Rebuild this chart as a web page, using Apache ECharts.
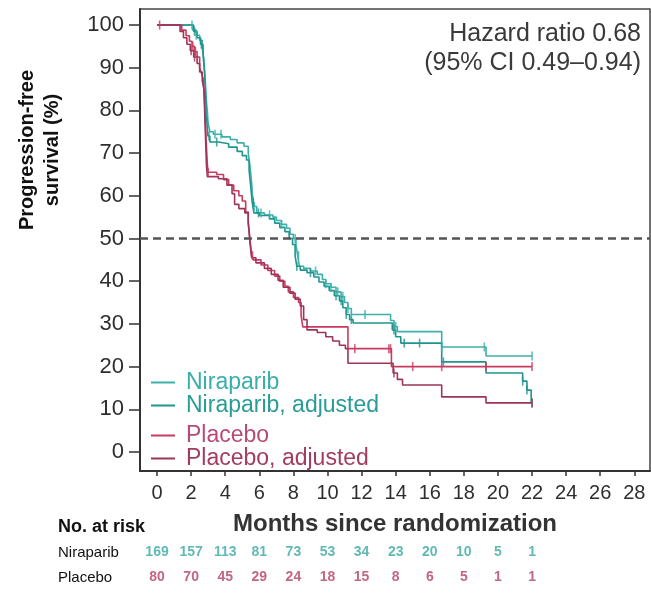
<!DOCTYPE html>
<html>
<head>
<meta charset="utf-8">
<script src="https://cdn.jsdelivr.net/npm/echarts@6/dist/echarts.min.js"></script>
<style>html,body{margin:0;padding:0;background:#fff}#c{width:651px;height:601px}</style>
</head>
<body>
<div id="c"></div>
<script>
// ---- data ----
const xTicks = [0,2,4,6,8,10,12,14,16,18,20,22,24,26,28];
const yTicks = [0,10,20,30,40,50,60,70,80,90,100];
const riskTimes = [0,2,4,6,8,10,12,14,16,18,20,22];
const riskNiraparib = [169,157,113,81,73,53,34,23,20,10,5,1];
const riskPlacebo = [80,70,45,29,24,18,15,8,6,5,1,1];
const rowNames = ['Niraparib','Placebo'];

const niraparib = [[0,100],[2.1,98.8],[2.3,97.6],[2.5,96.4],[2.65,94.6],[2.75,92],[2.8,89],[2.85,85.5],[2.9,82],[2.95,79.5],[3.0,77],[3.1,75],[3.3,74.4],[3.8,73.8],[4.3,73.2],[4.7,72.4],[5.1,71.6],[5.35,70],[5.45,67],[5.55,63],[5.6,60],[5.7,57.5],[5.85,56],[6.3,55.5],[6.8,55],[7.0,54.2],[7.3,53.3],[7.6,52.4],[7.8,51],[8.0,50],[8.15,48.5],[8.25,46],[8.35,43.5],[8.6,43],[9.0,42.4],[9.4,41.6],[9.7,40.4],[9.9,39.4],[10.2,38.6],[10.5,37.5],[10.8,36.4],[11.0,35],[11.2,33.6],[11.4,32.2],[13.7,30.8],[13.9,29.4],[14.1,28.2],[16.7,24.6],[19.3,22.5],[22,22.5]];
const niraparibAdj = [[0,100],[2.15,98.5],[2.35,97],[2.55,95.5],[2.7,93],[2.78,89],[2.83,85],[2.88,81],[2.93,77],[2.98,74],[3.1,72.6],[3.6,72.2],[4.2,71.4],[4.7,70.4],[5.0,69.4],[5.25,68.4],[5.4,66],[5.5,62],[5.58,58.5],[5.68,56],[6.0,55.4],[6.6,54.6],[6.9,53.6],[7.2,52.6],[7.5,51.6],[7.75,50],[7.95,48.6],[8.1,46],[8.2,43.5],[8.4,42.6],[8.8,42],[9.2,41],[9.5,39.8],[9.8,38.8],[10.1,37.8],[10.4,36.6],[10.7,35.4],[10.9,33.8],[11.1,32.2],[11.3,31],[11.5,30.2],[13.8,28.6],[14.0,27],[14.3,25.5],[16.7,21.1],[19.3,18.5],[21.45,16.6],[21.7,14.5],[21.95,11.5],[22,11.5]];
const placebo = [[0,100],[1.45,98.8],[1.7,97.5],[1.9,96.2],[2.05,95],[2.2,93.8],[2.35,92.5],[2.5,90],[2.6,88.8],[2.7,87.5],[2.78,83],[2.83,78],[2.88,73],[2.93,69],[2.98,65.5],[3.5,65],[3.9,63.8],[4.2,62.5],[4.5,61.2],[4.8,60],[5.0,58.8],[5.2,56.2],[5.35,53.5],[5.45,50],[5.55,46],[5.65,45],[6.1,43.8],[6.5,42.5],[6.9,41.2],[7.2,40],[7.5,38.8],[7.7,37.5],[8.0,36.2],[8.3,35],[8.45,32],[8.55,29.3],[11.2,24.2],[13.75,20],[22,20]];
const placeboAdj = [[0,100],[1.35,98.5],[1.55,97],[1.75,95.5],[1.95,94],[2.15,92.5],[2.35,91],[2.5,89],[2.65,87],[2.75,85],[2.8,79],[2.85,73],[2.9,67],[2.95,64.5],[3.6,64],[4.1,62.5],[4.4,60.5],[4.55,58],[4.8,57],[5.15,56],[5.35,54],[5.45,49],[5.55,45.5],[5.8,44.3],[6.3,43],[6.7,41.6],[7.1,40.2],[7.4,38.6],[7.8,37.2],[8.1,35.8],[8.4,34.2],[8.6,31],[8.8,28.6],[9.4,28],[9.9,27],[10.3,26],[10.7,25],[11.05,24.2],[11.2,20.8],[13.85,18.5],[14.1,17],[14.4,15.7],[16.7,12.9],[19.3,11.5],[22,11.5]];

const niraparibCens = [2.05,2.3,2.95,3.4,3.75,5.7,6.1,6.6,7.3,8.1,8.3,9.3,9.9,10.2,10.6,10.9,11.2,12.2,13.9,14.0,16.7,19.2,22];
const niraparibAdjCens = [2.2,2.6,3.05,3.5,5.65,5.95,8.2,9.0,10.5,10.8,11.1,11.4,13.9,14.5,15.4,16.8,21.45,21.7,22];
const placeboCens = [0.15,2.1,2.25,3.0,5.6,11.6,13.6,13.7,15.0,16.7,19.3,22];
const placeboAdjCens = [2.0,2.2,13.9,22];

// ---- styles ----
const FONT = 'Liberation Sans, Arial, Helvetica, sans-serif';
const C_NIR = '#3cb0ab', C_NIR_ADJ = '#1f958e', C_PLA = '#c93a5f', C_PLA_ADJ = '#9c3558';

function sAt(curve, t){ let s = curve[0][1]; for (const p of curve) if (p[0] <= t) s = p[1]; return s; }
function cens(curve, times){ return times.map(t => [t, sAt(curve, t)]); }

function kmLine(name, data, color, z){
  return {name, type:'line', step:'end', data, symbol:'none', showSymbol:false, z,
    lineStyle:{color, width:1.6}, itemStyle:{color}, emphasis:{disabled:true}};
}
function censSeries(name, data, color){
  return {name, type:'scatter', data, symbol:'rect', symbolSize:[1.6,9], itemStyle:{color}, z:5, silent:true};
}

const riskData = [];
riskTimes.forEach((t,i)=>{
  riskData.push({value:[t,'Niraparib'], label:{formatter:String(riskNiraparib[i]), color:'#3aa7a0'}});
  riskData.push({value:[t,'Placebo'], label:{formatter:String(riskPlacebo[i]), color:'#b2405f'}});
});

const lines = [
  kmLine('Niraparib', niraparib, C_NIR, 3),
  kmLine('Niraparib, adjusted', niraparibAdj, C_NIR_ADJ, 3),
  kmLine('Placebo', placebo, C_PLA, 4),
  kmLine('Placebo, adjusted', placeboAdj, C_PLA_ADJ, 4)
];
lines[0].markLine = {silent:true, symbol:['none','none'], label:{show:false},
  lineStyle:{color:'#555', width:2.5, type:[8,5]}, data:[{yAxis:50}]};

const chart = echarts.init(document.getElementById('c'), null, {renderer:'canvas'});
chart.setOption({
  animation:false,
  textStyle:{fontFamily:FONT},
  grid:[
    {left:140, right:1, top:9, bottom:130, show:true, borderColor:'#444', borderWidth:1.5},
    {left:140, right:1, top:540, height:50}
  ],
  xAxis:[
    {type:'value', gridIndex:0, min:-1.0, max:28.92,
     axisLine:{show:true, onZero:false, lineStyle:{color:'#333', width:2}},
     axisTick:{show:true, customValues:xTicks, length:5, lineStyle:{color:'#333', width:1.5}},
     axisLabel:{customValues:xTicks, margin:12, fontSize:20, color:'#2e2e2e', fontFamily:FONT},
     splitLine:{show:false},
     name:'Months since randomization', nameLocation:'middle', nameGap:41,
     nameTextStyle:{fontWeight:'bold', fontSize:24, color:'#333', fontFamily:FONT}},
    {type:'value', gridIndex:1, min:-1.0, max:28.92, show:false}
  ],
  yAxis:[
    {type:'value', gridIndex:0, min:-4.45, max:103.75,
     axisLine:{show:true, onZero:false, lineStyle:{color:'#333', width:2}},
     axisTick:{show:true, customValues:yTicks, length:11, lineStyle:{color:'#333', width:1.5}},
     axisLabel:{customValues:yTicks, margin:16, fontSize:22, color:'#2e2e2e', fontFamily:FONT},
     splitLine:{show:false}},
    {type:'category', gridIndex:1, data:rowNames, inverse:true,
     axisLine:{show:false}, axisTick:{show:false},
     axisLabel:{align:'left', margin:82, fontSize:15, color:'#111', fontFamily:FONT}}
  ],
  legend:[
    {orient:'vertical', left:146, top:366, itemGap:0, itemWidth:24, itemHeight:2, icon:'rect',
     textStyle:{fontSize:23, lineHeight:22, padding:[0,0,0,6], fontFamily:FONT},
     selectedMode:false,
     data:[{name:'Niraparib', textStyle:{color:'#3aaeaa'}},{name:'Niraparib, adjusted', textStyle:{color:'#2a9c96'}}]},
    {orient:'vertical', left:146, top:419, itemGap:0, itemWidth:24, itemHeight:2, icon:'rect',
     textStyle:{fontSize:23, lineHeight:20, padding:[0,0,0,6], fontFamily:FONT},
     selectedMode:false,
     data:[{name:'Placebo', textStyle:{color:'#b84a78'}},{name:'Placebo, adjusted', textStyle:{color:'#a33c60'}}]}
  ],
  graphic:[
    {type:'text', x:40, y:150, rotation:Math.PI/2,
     style:{text:'Progression-free\nsurvival (%)', font:'bold 20px '+FONT, fill:'#111', align:'center', verticalAlign:'middle', lineHeight:25}},
    {type:'text', x:641, y:34, style:{text:'Hazard ratio 0.68', font:'25px '+FONT, fill:'#3a3a3a', align:'right', verticalAlign:'middle'}},
    {type:'text', x:641, y:63, style:{text:'(95% CI 0.49\u20130.94)', font:'25px '+FONT, fill:'#3a3a3a', align:'right', verticalAlign:'middle'}},
    {type:'text', x:58, y:527, style:{text:'No. at risk', font:'bold 18px '+FONT, fill:'#111', align:'left', verticalAlign:'middle'}}
  ],
  series:[
    ...lines,
    censSeries('nirC', cens(niraparib, niraparibCens), C_NIR),
    censSeries('nirAdjC', cens(niraparibAdj, niraparibAdjCens), C_NIR_ADJ),
    censSeries('plaC', cens(placebo, placeboCens), C_PLA),
    censSeries('plaAdjC', cens(placeboAdj, placeboAdjCens), C_PLA_ADJ),
    {name:'risk', type:'scatter', xAxisIndex:1, yAxisIndex:1, data:riskData, symbolSize:0, silent:true,
     label:{show:true, position:'inside', fontSize:14, fontWeight:'bold', fontFamily:FONT}}
  ]
});
</script>
</body>
</html>
